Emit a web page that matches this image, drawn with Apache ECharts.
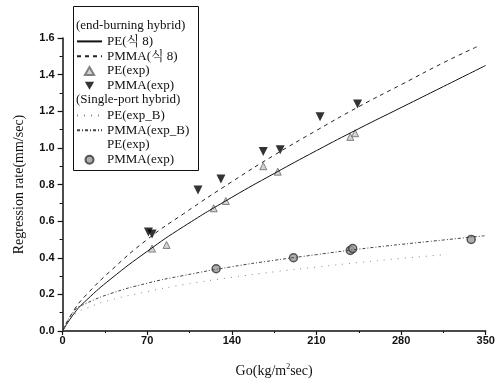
<!DOCTYPE html>
<html>
<head>
<meta charset="utf-8">
<script src="https://cdn.jsdelivr.net/npm/echarts@6/dist/echarts.min.js"></script>
<style>
  html, body { margin: 0; padding: 0; background: #fff; }
  #chart { width: 502px; height: 383px; }
</style>
</head>
<body>
<div id="chart"></div>
<script>
// fitted curves
const pe8 = [[0, 0], [10, 0.10], [20, 0.17], [40, 0.285], [70, 0.435], [100, 0.57], [140, 0.73], [175, 0.86], [210, 0.985], [245, 1.105], [280, 1.22], [315, 1.335], [350, 1.45]]
const pmma8 = [[0, 0], [10, 0.12], [20, 0.20], [40, 0.33], [70, 0.50], [100, 0.64], [140, 0.815], [175, 0.96], [210, 1.095], [245, 1.225], [280, 1.345], [315, 1.465], [343, 1.553]]
const peExpB = [[0, 0], [10, 0.09], [20, 0.125], [40, 0.17], [70, 0.215], [100, 0.253], [140, 0.293], [175, 0.323], [210, 0.349], [245, 0.374], [280, 0.396], [318, 0.418]]
const pmmaExpB = [[0, 0], [10, 0.113], [20, 0.152], [40, 0.205], [70, 0.261], [100, 0.303], [140, 0.351], [175, 0.386], [210, 0.417], [245, 0.447], [280, 0.473], [315, 0.497], [349, 0.52]]

// measured points
const peExp = [[74, 0.45], [86, 0.47], [125, 0.67], [135, 0.71], [166, 0.90], [178, 0.87], [238, 1.06], [242, 1.08]]
const pmmaExp = [[71, 0.54], [74, 0.53], [112, 0.77], [131, 0.83], [166, 0.98], [180, 0.99], [213, 1.17], [244, 1.24]]
const pmmaSingle = [[127, 0.34], [191, 0.40], [238, 0.44], [240, 0.45], [338, 0.50]]

const groupA = ['PE(식 8)', 'PMMA(식 8)', 'PE(exp)', 'PMMA(exp)']
const groupB = ['PE(exp_B)', 'PMMA(exp_B)', 'PE(exp) ', 'PMMA(exp) ']
const headers = ['(end-burning hybrid)', '(Single-port hybrid)']

const serif = "'Liberation Serif', 'Noto Serif CJK KR', 'Noto Sans CJK KR', serif"
const tickFont = { fontFamily: "'Liberation Sans', Arial, sans-serif", fontWeight: 'bold', fontSize: 11, color: '#111' }

const triUp = 'path://M1,0L2,1.73L0,1.73Z'
const triDown = 'path://M0,0L2,0L1,1.73Z'
const noDot = { opacity: 0 } // hide the symbol drawn on line legend icons

const chart = echarts.init(document.getElementById('chart'))

const legendBase = {
  orient: 'vertical',
  left: 76,
  padding: 0,
  itemWidth: 25,
  itemHeight: 8,
  itemGap: 0,
  symbolKeepAspect: true,
  selectedMode: false,
  textStyle: { fontFamily: serif, fontSize: 13, lineHeight: 14.8, color: '#111' }
}

chart.setOption({
  animation: false,
  grid: { left: 62.6, right: 16.3, top: 38, bottom: 49 },
  legend: [
    Object.assign({}, legendBase, {
      top: 34,
      data: [
        { name: groupA[0], itemStyle: noDot },
        { name: groupA[1], itemStyle: noDot },
        { name: groupA[2], icon: triUp },
        { name: groupA[3], icon: triDown }
      ]
    }),
    Object.assign({}, legendBase, {
      top: 108,
      data: [
        { name: groupB[0], itemStyle: noDot },
        { name: groupB[1], itemStyle: noDot },
        { name: groupB[2], icon: 'none' },
        { name: groupB[3], icon: 'circle' }
      ]
    })
  ],
  graphic: [
    {
      type: 'rect',
      shape: { x: 73.5, y: 6.5, width: 125, height: 164 },
      style: { fill: 'none', stroke: '#111', lineWidth: 1 },
      z: 10
    },
    {
      type: 'text', left: 76, top: 19.5,
      style: { text: headers[0], font: '13px ' + serif, fill: '#111' }
    },
    {
      type: 'text', left: 76, top: 93.5,
      style: { text: headers[1], font: '13px ' + serif, fill: '#111' }
    }
  ],
  xAxis: {
    type: 'value',
    min: 0,
    max: 350,
    interval: 70,
    name: 'Go(kg/m{sup|2}sec)',
    nameLocation: 'middle',
    nameGap: 32,
    nameTextStyle: {
      fontFamily: serif, fontSize: 14, color: '#111',
      rich: { sup: { fontFamily: serif, fontSize: 8, verticalAlign: 'top', padding: [0, 0, 8, 0] } }
    },
    axisLine: { lineStyle: { color: '#111', width: 1.5 } },
    axisTick: { length: 4, lineStyle: { color: '#111', width: 1.2 } },
    minorTick: { show: true, splitNumber: 2, length: 2, lineStyle: { color: '#111' } },
    axisLabel: Object.assign({ margin: 4 }, tickFont),
    splitLine: { show: false }
  },
  yAxis: {
    type: 'value',
    min: 0,
    max: 1.6,
    interval: 0.2,
    name: 'Regression rate(mm/sec)',
    nameLocation: 'middle',
    nameGap: 36,
    nameTextStyle: { fontFamily: serif, fontSize: 14, color: '#111' },
    axisLine: { show: true, lineStyle: { color: '#111', width: 1.5 } },
    axisTick: { show: true, length: 5, lineStyle: { color: '#111', width: 1.2 } },
    minorTick: { show: true, splitNumber: 2, length: 3, lineStyle: { color: '#111' } },
    axisLabel: Object.assign({ margin: 8, formatter: v => v.toFixed(1) }, tickFont),
    splitLine: { show: false }
  },
  series: [
    {
      name: groupA[0], type: 'line', data: pe8, symbol: 'none', smooth: true,
      lineStyle: { color: '#111', width: 1 }
    },
    {
      name: groupA[1], type: 'line', data: pmma8, symbol: 'none', smooth: true,
      lineStyle: { color: '#222', width: 1, type: [4, 4] }
    },
    {
      name: groupA[2], type: 'scatter', data: peExp, symbol: 'triangle', symbolSize: 7,
      itemStyle: { color: '#c8c8c8', borderColor: '#666', borderWidth: 1 }
    },
    {
      name: groupA[3], type: 'scatter', data: pmmaExp, symbol: 'triangle', symbolRotate: 180, symbolSize: 9,
      itemStyle: { color: '#000' }
    },
    {
      name: groupB[0], type: 'line', data: peExpB, symbol: 'none', smooth: true,
      lineStyle: { color: '#888', width: 1, type: [1, 6] }
    },
    {
      name: groupB[1], type: 'line', data: pmmaExpB, symbol: 'none', smooth: true,
      lineStyle: { color: '#444', width: 1, type: [3, 2, 1, 2] }
    },
    {
      name: groupB[2], type: 'scatter', data: [], symbol: 'none'
    },
    {
      name: groupB[3], type: 'scatter', data: pmmaSingle, symbol: 'circle', symbolSize: 8,
      itemStyle: { color: '#9a9a9a', borderColor: '#333', borderWidth: 1.5 }
    }
  ]
})
</script>
</body>
</html>
